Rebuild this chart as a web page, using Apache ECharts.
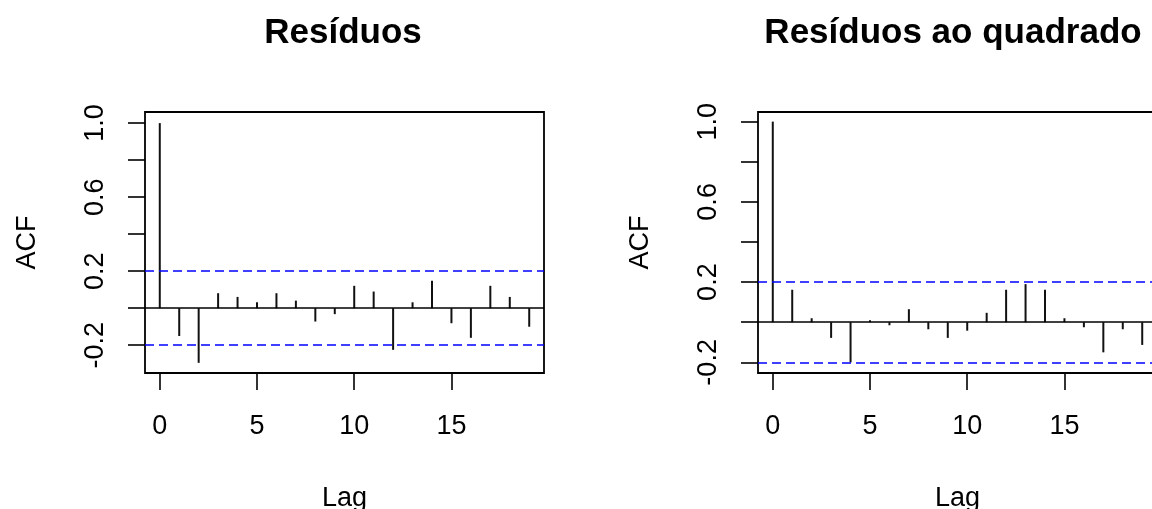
<!DOCTYPE html>
<html>
<head>
<meta charset="utf-8">
<script src="https://cdn.jsdelivr.net/npm/echarts@6/dist/echarts.min.js"></script>
<style>
    html, body {margin: 0; padding: 0; background: #fff;}
    #main {width: 1152px; height: 509px;}
</style>
</head>
<body>
<div id="main"></div>
<script>
// lags 0..19
var lags = [0, 1, 2, 3, 4, 5, 6, 7, 8, 9, 10, 11, 12, 13, 14, 15, 16, 17, 18, 19];
// acf dos residuos
var acfRes = [1.0, -0.15, -0.295, 0.081, 0.061, 0.032, 0.081, 0.041, -0.072, -0.032,
    0.121, 0.09, -0.225, 0.032, 0.148, -0.081, -0.16, 0.121, 0.061, -0.10];
// acf dos residuos ao quadrado
var acfSq = [1.0, 0.162, 0.02, -0.078, -0.2, 0.01, -0.015, 0.065, -0.035, -0.078,
    -0.042, 0.047, 0.162, 0.19, 0.162, 0.02, -0.025, -0.15, -0.035, -0.113];
var confLimit = 0.204;
var titles = ["Resíduos", "Resíduos ao quadrado"];
var xTicks = [0, 5, 10, 15];
var yTicks = [-0.2, 0, 0.2, 0.4, 0.6, 0.8, 1.0];
var yLabels = [-0.2, 0.2, 0.6, 1.0];

var font = "'Liberation Sans', Arial, sans-serif";

var chart = echarts.init(document.getElementById("main"));

function pairs(vals) {
    var out = [];
    for (var i = 0; i < lags.length; i++) {
        out.push([lags[i], vals[i]]);
    }
    return out;
}

function makeX(idx) {
    return {
        type: "value", gridIndex: idx, min: -0.76, max: 19.76,
        name: "Lag", nameLocation: "middle", nameGap: 112,
        nameTextStyle: {fontFamily: font, fontSize: 27, color: "#000"},
        axisLine: {show: false, onZero: false},
        axisTick: {show: true, inside: false, customValues: xTicks, length: 17, lineStyle: {color: "#000", width: 1.6}},
        axisLabel: {customValues: xTicks, margin: 40, fontFamily: font, fontSize: 27, color: "#000"},
        splitLine: {show: false}
    };
}

function makeY(idx, min, max) {
    return {
        type: "value", gridIndex: idx, min: min, max: max,
        name: "ACF", nameLocation: "middle", nameRotate: 90, nameGap: 104,
        nameTextStyle: {fontFamily: font, fontSize: 27, color: "#000"},
        axisLine: {show: false, onZero: false},
        axisTick: {show: true, inside: false, customValues: yTicks, length: 17, lineStyle: {color: "#000", width: 1.6}},
        axisLabel: {customValues: yLabels, rotate: 90, margin: 36, fontFamily: font, fontSize: 27, color: "#000",
            formatter: function (v) { return v.toFixed(1); }},
        splitLine: {show: false}
    };
}

function makeSeries(idx, vals) {
    return {
        type: "bar", xAxisIndex: idx, yAxisIndex: idx,
        data: pairs(vals), barWidth: 2,
        itemStyle: {color: "#111"},
        silent: true,
        markLine: {
            symbol: "none", silent: true, label: {show: false},
            data: [
                {yAxis: 0, lineStyle: {color: "#000", type: "solid", width: 1.6}},
                {yAxis: confLimit, lineStyle: {color: "#0000ff", type: [9, 5], width: 1.6}},
                {yAxis: -confLimit, lineStyle: {color: "#0000ff", type: [9, 5], width: 1.6}}
            ]
        }
    };
}

var option = {
    backgroundColor: "#fff",
    animation: false,
    title: [
        {text: titles[0], left: 338, top: 11, textAlign: "center",
            textStyle: {fontFamily: font, fontSize: 35, fontWeight: "bold", color: "#000"}},
        {text: titles[1], left: 948, top: 11, textAlign: "center",
            textStyle: {fontFamily: font, fontSize: 35, fontWeight: "bold", color: "#000"}}
    ],
    grid: [
        {left: 145, top: 112, width: 399, height: 261, outerBoundsMode: "none", show: true,
            borderColor: "#000", borderWidth: 1.8, backgroundColor: "transparent"},
        {left: 758, top: 112, width: 399, height: 261, outerBoundsMode: "none", show: true,
            borderColor: "#000", borderWidth: 1.8, backgroundColor: "transparent"}
    ],
    xAxis: [makeX(0), makeX(1)],
    yAxis: [makeY(0, -0.35, 1.06), makeY(1, -0.253, 1.048)],
    series: [makeSeries(0, acfRes), makeSeries(1, acfSq)]
};

chart.setOption(option);
</script>
</body>
</html>
